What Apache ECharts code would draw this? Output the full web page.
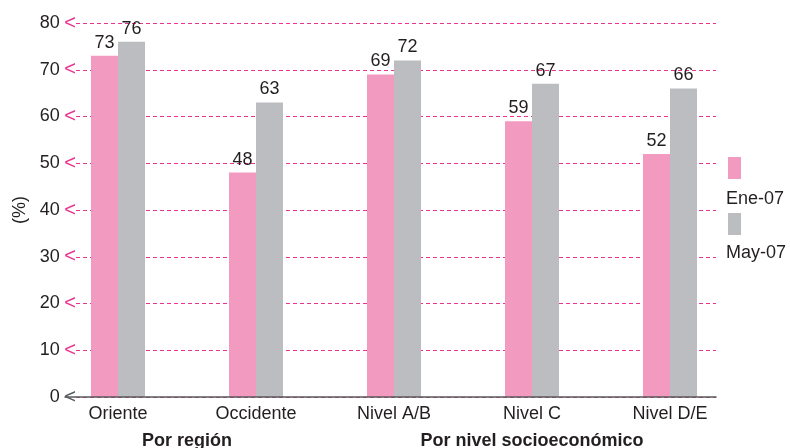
<!DOCTYPE html>
<html>
<head>
<meta charset="utf-8">
<script src="https://cdn.jsdelivr.net/npm/echarts@6/dist/echarts.min.js"></script>
<style>
  html, body { margin: 0; padding: 0; background: #ffffff; }
  #chart { width: 790px; height: 448px; }
</style>
</head>
<body>
<div id="chart"></div>
<script>
// Share of respondents (%) by region and by socioeconomic level
const categories = ['Oriente', 'Occidente', 'Nivel A/B', 'Nivel C', 'Nivel D/E'];
const seriesNames = ['Ene-07', 'May-07'];
const ene07 = [73, 48, 69, 59, 52];
const may07 = [76, 63, 72, 67, 66];
const yTicks = [0, 10, 20, 30, 40, 50, 60, 70, 80];
const groups = [
  { name: 'Por región', first: 0, last: 1 },
  { name: 'Por nivel socioeconómico', first: 2, last: 4 }
];

const FONT = "'Liberation Sans', Arial, Helvetica, sans-serif";
const TEXT = '#231f20';
const PINK = '#f39ac1';
const GRAY = '#bbbdc0';
const MAGENTA = '#e8358f';
const AXIS = '#58595b';

const yMin = yTicks[0];
const yMax = yTicks[yTicks.length - 1];
const yStep = yTicks[1] - yTicks[0];

const plotTop = 23;
const plotBottom = 51;

const chart = echarts.init(document.getElementById('chart'), null, { renderer: 'canvas' });

chart.setOption({
  animation: false,
  backgroundColor: '#ffffff',
  textStyle: { fontFamily: FONT, color: TEXT },
  grid: [
    // dashed guide lines and value labels
    { left: 76, right: 74, top: plotTop, bottom: plotBottom },
    // bars
    { left: 49, right: 51, top: plotTop, bottom: plotBottom },
    // baseline
    { left: 65, right: 74, top: plotTop, bottom: plotBottom }
  ],
  xAxis: [
    { gridIndex: 0, type: 'category', data: categories, show: false },
    {
      gridIndex: 1, type: 'category', data: categories,
      axisLine: { show: false }, axisTick: { show: false },
      axisLabel: { fontSize: 18, color: TEXT, fontFamily: FONT, margin: 8, interval: 0 }
    },
    {
      gridIndex: 2, type: 'category', data: categories, z: 5,
      axisLine: { show: true, lineStyle: { color: AXIS, width: 1.5 } },
      axisTick: { show: false }, axisLabel: { show: false }
    }
  ],
  yAxis: [
    {
      gridIndex: 0, type: 'value', min: yMin, max: yMax, interval: yStep,
      name: '(%)', nameLocation: 'middle', nameGap: 46,
      nameTextStyle: { fontSize: 18, color: TEXT, fontFamily: FONT },
      axisLine: { show: false }, axisTick: { show: false },
      splitLine: { show: true, lineStyle: { color: MAGENTA, width: 1.2, type: [4, 3] } },
      axisLabel: {
        margin: 0,
        formatter: v => (v === 0 ? '{n|' + v + '}{s| }{d|<}' : '{n|' + v + '}{s| }{a|<}'),
        rich: {
          n: { fontSize: 18, color: TEXT, fontFamily: FONT },
          s: { fontSize: 16, fontFamily: FONT },
          a: { fontSize: 20, color: MAGENTA, fontFamily: FONT },
          d: { fontSize: 20, color: AXIS, fontFamily: FONT }
        }
      }
    },
    { gridIndex: 1, type: 'value', min: yMin, max: yMax, interval: yStep, show: false },
    { gridIndex: 2, type: 'value', min: yMin, max: yMax, interval: yStep, show: false }
  ],
  legend: [
    {
      data: seriesNames, orient: 'vertical', left: 728, top: 157, padding: 0,
      icon: 'rect', itemWidth: 13, itemHeight: 22, itemGap: 34,
      selectedMode: false, formatter: () => ''
    },
    {
      data: seriesNames, orient: 'vertical', left: 721, top: 189, padding: 0,
      icon: 'rect', itemWidth: 0, itemHeight: 20, itemGap: 34,
      itemStyle: { opacity: 0 }, selectedMode: false,
      textStyle: { fontSize: 18, color: TEXT, fontFamily: FONT }
    }
  ],
  series: [
    {
      name: seriesNames[0], type: 'bar', data: ene07,
      xAxisIndex: 1, yAxisIndex: 1,
      barWidth: 27, barGap: '0%',
      itemStyle: { color: PINK },
      label: { show: true, position: 'top', distance: 4, fontSize: 18, color: TEXT, fontFamily: FONT }
    },
    {
      name: seriesNames[1], type: 'bar', data: may07,
      xAxisIndex: 1, yAxisIndex: 1,
      barWidth: 27, barGap: '0%',
      itemStyle: { color: GRAY },
      label: { show: true, position: 'top', distance: 4, fontSize: 18, color: TEXT, fontFamily: FONT }
    }
  ]
});

// Group captions centred under their categories
const groupY = 441;
chart.setOption({
  graphic: groups.map(g => {
    const x0 = chart.convertToPixel({ xAxisIndex: 1 }, categories[g.first]);
    const x1 = chart.convertToPixel({ xAxisIndex: 1 }, categories[g.last]);
    return {
      type: 'text',
      x: (x0 + x1) / 2,
      y: groupY,
      style: {
        text: g.name,
        fill: TEXT,
        font: 'bold 18px ' + FONT,
        textAlign: 'center',
        textVerticalAlign: 'middle'
      }
    };
  })
});
</script>
</body>
</html>
